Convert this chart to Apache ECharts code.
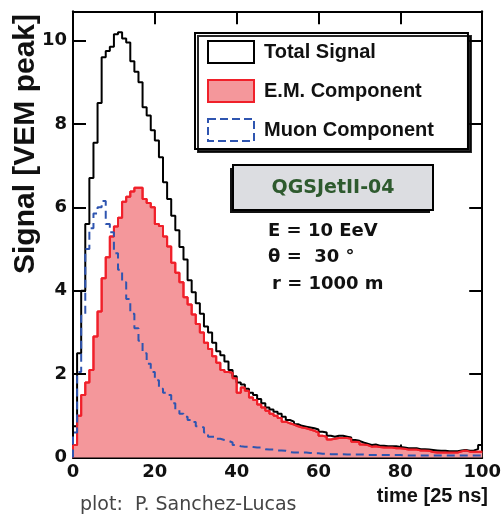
<!DOCTYPE html>
<html>
<head>
<meta charset="utf-8">
<script src="https://cdn.jsdelivr.net/npm/echarts@6/dist/echarts.min.js"></script>
<style>
html,body{margin:0;padding:0;background:#fff;}
#chart{width:504px;height:515px;}
</style>
</head>
<body>
<div id="chart"></div>
<script>
// bin lower edges: 0..99 (time in units of 25 ns), bin width 1
const totalSignal = [
  0.75, 2.5, 4.0, 5.6, 6.7, 7.55, 8.5, 9.6, 9.75, 9.85,
  10.15, 10.2, 10.05, 9.95, 9.5, 9.25, 9.0, 8.4, 8.2, 7.85,
  7.6, 7.2, 6.6, 6.2, 5.8, 5.45, 5.05, 4.75, 4.25, 3.96,
  3.7, 3.45, 3.14, 3.0, 2.75, 2.55, 2.45, 2.3, 2.1, 1.95,
  1.8, 1.75, 1.65, 1.55, 1.5, 1.4, 1.3, 1.2, 1.15, 1.1,
  1.05, 0.98, 0.9, 0.86, 0.8, 0.76, 0.74, 0.72, 0.7, 0.67,
  0.62, 0.6, 0.52, 0.5, 0.52, 0.52, 0.5, 0.48, 0.42, 0.4,
  0.36, 0.33, 0.3, 0.31, 0.28, 0.28, 0.27, 0.27, 0.27, 0.25,
  0.24, 0.22, 0.22, 0.22, 0.2, 0.2, 0.19, 0.18, 0.17, 0.16,
  0.16, 0.15, 0.15, 0.15, 0.17, 0.18, 0.16, 0.17, 0.2, 0.3
];
const emComponent = [
  0.3, 1.0, 1.5, 1.8, 2.1, 2.9, 3.5, 4.3, 4.8, 5.3,
  5.54, 5.75, 6.13, 6.25, 6.38, 6.47, 6.47, 6.2, 6.1, 6.0,
  5.6, 5.55, 5.3, 5.06, 4.67, 4.43, 4.2, 3.84, 3.67, 3.43,
  3.2, 3.0, 2.75, 2.6, 2.43, 2.27, 2.1, 2.05, 2.03, 1.9,
  1.55, 1.68, 1.6, 1.44, 1.38, 1.27, 1.2, 1.12, 1.05, 1.0,
  0.95, 0.86, 0.82, 0.79, 0.75, 0.72, 0.7, 0.67, 0.64, 0.6,
  0.52, 0.5, 0.43, 0.45, 0.47, 0.47, 0.47, 0.45, 0.38, 0.37,
  0.31, 0.3, 0.26, 0.27, 0.25, 0.24, 0.24, 0.24, 0.22, 0.22,
  0.21, 0.19, 0.19, 0.19, 0.17, 0.17, 0.16, 0.13, 0.12, 0.12,
  0.12, 0.12, 0.12, 0.12, 0.15, 0.17, 0.14, 0.14, 0.14, 0.14
];
const muonComponent = [
  0.6, 2.05, 3.4, 5.0, 5.5, 5.85, 6.0, 6.15, 5.6, 5.4,
  4.9, 4.5, 4.2, 3.8, 3.45, 3.1, 2.8, 2.5, 2.25, 2.05,
  1.85, 1.65, 1.55, 1.5, 1.3, 1.15, 1.05, 0.98, 0.9, 0.85,
  0.75, 0.72, 0.6, 0.5, 0.5, 0.45, 0.42, 0.4, 0.36, 0.3,
  0.27, 0.26, 0.26, 0.25, 0.24, 0.24, 0.2, 0.19, 0.19, 0.17,
  0.17, 0.16, 0.13, 0.12, 0.12, 0.12, 0.12, 0.11, 0.1, 0.1,
  0.09, 0.09, 0.08, 0.08, 0.08, 0.08, 0.07, 0.07, 0.07, 0.07,
  0.07, 0.06, 0.06, 0.06, 0.06, 0.06, 0.06, 0.06, 0.06, 0.06,
  0.05, 0.05, 0.05, 0.05, 0.05, 0.05, 0.05, 0.05, 0.05, 0.05,
  0.05, 0.05, 0.05, 0.05, 0.05, 0.05, 0.05, 0.05, 0.05, 0.05
];
const seriesNames = ['Total Signal', 'E.M. Component', 'Muon Component'];
const xTickValues = [0, 20, 40, 60, 80, 100];
const yTickValues = [0, 2, 4, 6, 8, 10];
const infoLines = ['E = 10 EeV', 'θ =  30 °', 'r = 1000 m'];
const modelLabel = 'QGSJetII-04';
const xTitle = 'time [25 ns]';
const yTitle = 'Signal [VEM peak]';
const credit = 'plot:  P. Sanchez-Lucas';

function histPoints(vals) {
  const pts = [[0, 0]];
  vals.forEach((v, i) => pts.push([i, v]));
  pts.push([vals.length, vals[vals.length - 1]]);
  return pts;
}

const FONT = 'Liberation Sans';
const WIDEFONT = 'DejaVu Sans';
const chart = echarts.init(document.getElementById('chart'), null, {renderer: 'canvas'});

const axisCommon = {
  axisLine: {show: true, onZero: false, lineStyle: {color: '#000', width: 2}},
  axisTick: {show: true, inside: true, length: 13, lineStyle: {color: '#000', width: 2}},
  splitLine: {show: false}
};

chart.setOption({
  animation: false,
  backgroundColor: '#fff',
  grid: {left: 73, right: 15.5, top: 11.3, bottom: 57.5, containLabel: false},
  xAxis: [
    Object.assign({
      type: 'value', min: 0, max: 100, interval: 20, position: 'bottom',
      axisLabel: {show: true, margin: 6, color: '#111', fontFamily: WIDEFONT, fontWeight: 'bold', fontSize: 18,
        formatter: v => xTickValues.includes(v) ? String(v) : ''}
    }, axisCommon),
    Object.assign({
      type: 'value', min: 0, max: 100, interval: 20, position: 'top',
      axisLabel: {show: false}
    }, axisCommon)
  ],
  yAxis: [
    Object.assign({
      type: 'value', min: 0, max: 10.7, interval: 2, position: 'left',
      axisLabel: {show: true, margin: 6, showMaxLabel: false, color: '#111', fontFamily: WIDEFONT, fontWeight: 'bold', fontSize: 18,
        formatter: v => yTickValues.includes(v) ? String(v) : ''}
    }, axisCommon),
    Object.assign({
      type: 'value', min: 0, max: 10.7, interval: 2, position: 'right',
      axisLabel: {show: false}
    }, axisCommon)
  ],
  legend: {
    orient: 'vertical', left: 195, top: 33,
    itemWidth: 46, itemHeight: 22, itemGap: 15,
    padding: [7, 34, 7, 12],
    backgroundColor: '#fff', borderColor: '#000', borderWidth: 2,
    shadowColor: 'rgba(0,0,0,0.85)', shadowBlur: 0, shadowOffsetX: 3, shadowOffsetY: 3,
    textStyle: {fontFamily: FONT, fontWeight: 'bold', fontSize: 20, color: '#111', padding: [0, 0, 0, 5]},
    data: [
      {name: seriesNames[0], icon: 'rect', itemStyle: {color: '#fff', borderColor: '#000', borderWidth: 2}},
      {name: seriesNames[1], icon: 'rect', itemStyle: {color: '#f4979b', borderColor: '#f0202a', borderWidth: 2}},
      {name: seriesNames[2], icon: 'rect', itemStyle: {color: '#fff', borderColor: '#2f55b0', borderWidth: 2, borderType: 'dashed'}}
    ]
  },
  series: [
    {
      name: seriesNames[1], type: 'line', step: 'end', symbol: 'none', z: 2,
      data: histPoints(emComponent),
      lineStyle: {color: '#f0202a', width: 2},
      itemStyle: {color: '#f4979b'},
      areaStyle: {color: '#f4979b', opacity: 1}
    },
    {
      name: seriesNames[0], type: 'line', step: 'end', symbol: 'none', z: 3,
      data: histPoints(totalSignal),
      lineStyle: {color: '#000', width: 2},
      itemStyle: {color: '#000'}
    },
    {
      name: seriesNames[1] + ' line', type: 'line', step: 'end', symbol: 'none', z: 4,
      data: histPoints(emComponent),
      lineStyle: {color: '#f0202a', width: 2},
      silent: true
    },
    {
      name: seriesNames[2], type: 'line', step: 'end', symbol: 'none', z: 5,
      data: histPoints(muonComponent),
      lineStyle: {color: '#2f55b0', width: 2, type: [8, 5]},
      itemStyle: {color: '#2f55b0'}
    }
  ],
  graphic: [
    {type: 'rect', z: 100, shape: {x: 230, y: 168, width: 200, height: 45}, style: {fill: '#111'}},
    {type: 'rect', z: 101, shape: {x: 233, y: 165, width: 200, height: 45},
      style: {fill: '#dcdde1', stroke: '#000', lineWidth: 2}},
    {type: 'text', z: 102, x: 333, y: 188,
      style: {text: modelLabel, fill: '#2e5a2e', fontFamily: WIDEFONT, fontWeight: 'bold', fontSize: 19, textAlign: 'center', textVerticalAlign: 'middle'}},
    {type: 'text', z: 102, x: 268, y: 231,
      style: {text: infoLines[0], fill: '#111', fontFamily: WIDEFONT, fontWeight: 'bold', fontSize: 18, textAlign: 'left', textVerticalAlign: 'middle'}},
    {type: 'text', z: 102, x: 268, y: 257,
      style: {text: infoLines[1], fill: '#111', fontFamily: WIDEFONT, fontWeight: 'bold', fontSize: 18, textAlign: 'left', textVerticalAlign: 'middle'}},
    {type: 'text', z: 102, x: 272, y: 284,
      style: {text: infoLines[2], fill: '#111', fontFamily: WIDEFONT, fontWeight: 'bold', fontSize: 18, textAlign: 'left', textVerticalAlign: 'middle'}},
    {type: 'text', z: 102, x: 26, y: 144, rotation: Math.PI / 2,
      style: {text: yTitle, fill: '#111', fontFamily: FONT, fontWeight: 'bold', fontSize: 30, textAlign: 'center', textVerticalAlign: 'middle'}},
    {type: 'text', z: 102, x: 488, y: 496,
      style: {text: xTitle, fill: '#111', fontFamily: FONT, fontWeight: 'bold', fontSize: 20, textAlign: 'right', textVerticalAlign: 'middle'}},
    {type: 'text', z: 102, x: 80, y: 505,
      style: {text: credit, fill: '#444', fontFamily: WIDEFONT, fontSize: 19, textAlign: 'left', textVerticalAlign: 'middle'}}
  ]
});
</script>
</body>
</html>
